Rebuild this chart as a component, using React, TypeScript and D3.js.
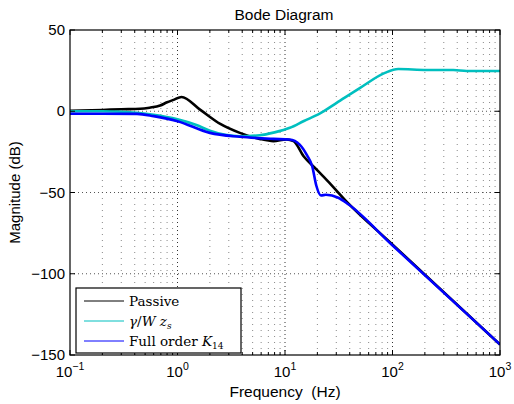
import React from "react";
import * as d3 from "d3";

// frequency (Hz) / magnitude (dB)
const passiveFreq = [0.1, 0.2, 0.3, 0.45, 0.55, 0.69, 0.8, 0.92, 1.09, 1.62, 2.5, 3.8, 5.8, 7.8, 10.3, 12, 14.9, 19.6, 25, 37, 98, 1000];
const passiveDb = [0.2, 0.8, 1.2, 1.5, 2.2, 3.5, 5.5, 7.0, 8.8, 1, -7.8, -13.3, -17, -18.4, -17.4, -18.4, -27.7, -35.8, -43, -55.3, -81.5, -143.5];

const gammaFreq = [0.1, 0.2, 0.3, 0.42, 0.6, 1.0, 1.5, 2.0, 3.8, 5.8, 8, 11.1, 15, 21, 30, 50, 85, 113, 208, 368, 490, 1000];
const gammaDb = [0, 0, -0.3, -1, -2.2, -5, -8.5, -12, -15.4, -14.8, -13, -10.2, -6, -1.5, 5, 14.4, 23.6, 26, 25.4, 25.4, 24.8, 24.8];

const fullFreq = [0.1, 0.2, 0.42, 0.6, 1.0, 2.0, 3.8, 7.8, 11, 13.7, 16, 17.9, 19.6, 21.6, 24, 31.3, 39.1, 98, 1000];
const fullDb = [-1.5, -1.5, -1.6, -3, -6.1, -13.3, -15.7, -17, -17.4, -20.5, -27, -33.8, -46, -51.8, -51.4, -53.2, -57.4, -82, -143.5];

const yTicks = [50, 0, -50, -100, -150];
const xDecades = [-1, 0, 1, 2, 3];

const W = 514, H = 404;
const left = 70, right = 500, top = 30, bottom = 355;

const x = d3.scaleLog().domain([0.1, 1000]).range([left, right]);
const y = d3.scaleLinear().domain([-150, 50]).range([bottom, top]);

const line = d3
  .line<[number, number]>()
  .x((d) => x(d[0]))
  .y((d) => y(d[1]))
  .curve(d3.curveMonotoneX);

const zip = (f: number[], v: number[]) => f.map((d, i) => [d, v[i]] as [number, number]);

const series = [
  { key: "passive", pts: zip(passiveFreq, passiveDb), color: "#000000" },
  { key: "gamma", pts: zip(gammaFreq, gammaDb), color: "#00BFBF" },
  { key: "full", pts: zip(fullFreq, fullDb), color: "#0000FF" },
];

const minorFreqs: number[] = [];
for (let e = -1; e < 3; e++) for (let k = 2; k <= 9; k++) minorFreqs.push(k * Math.pow(10, e));

const sans = "'Liberation Sans', Arial, sans-serif";
const serif = "'DejaVu Serif', 'Liberation Serif', serif";

export default function App() {
  return (
    <svg width={W} height={H} style={{ position: "absolute", left: 0, top: 0, background: "#fff" }}>
      <rect width={W} height={H} fill="#fff" />
      {/* grid */}
      {minorFreqs.map((f) => (
        <line key={"mg" + f} x1={x(f)} x2={x(f)} y1={top} y2={bottom} stroke="#888" strokeWidth={1} strokeDasharray="1,5" />
      ))}
      {xDecades.slice(1, -1).map((e) => (
        <line key={"Mg" + e} x1={x(Math.pow(10, e))} x2={x(Math.pow(10, e))} y1={top} y2={bottom} stroke="#333" strokeWidth={1} strokeDasharray="1,3" />
      ))}
      {yTicks.slice(1, -1).map((t) => (
        <line key={"yg" + t} x1={left} x2={right} y1={y(t)} y2={y(t)} stroke="#555" strokeWidth={1} strokeDasharray="1,3" />
      ))}

      {/* curves */}
      <g clipPath="url(#clip)">
        {series.map((s) => (
          <path key={s.key} d={line(s.pts) || ""} fill="none" stroke={s.color} strokeWidth={2.6} strokeLinejoin="round" />
        ))}
      </g>
      <defs>
        <clipPath id="clip">
          <rect x={left} y={top} width={right - left} height={bottom - top} />
        </clipPath>
      </defs>

      {/* ticks */}
      {yTicks.map((t) => (
        <g key={"yt" + t}>
          <line x1={left} x2={left + 5} y1={y(t)} y2={y(t)} stroke="#000" />
          <line x1={right} x2={right - 5} y1={y(t)} y2={y(t)} stroke="#000" />
          <text x={left - 5} y={y(t) + 5} textAnchor="end" fontFamily={sans} fontSize={15}>
            {t < 0 ? "\u2212" + Math.abs(t) : t}
          </text>
        </g>
      ))}
      {minorFreqs.map((f) => (
        <g key={"xm" + f}>
          <line x1={x(f)} x2={x(f)} y1={bottom} y2={bottom - 3} stroke="#000" />
          <line x1={x(f)} x2={x(f)} y1={top} y2={top + 3} stroke="#000" />
        </g>
      ))}
      {xDecades.map((e) => (
        <g key={"xt" + e}>
          <line x1={x(Math.pow(10, e))} x2={x(Math.pow(10, e))} y1={bottom} y2={bottom - 5} stroke="#000" />
          <line x1={x(Math.pow(10, e))} x2={x(Math.pow(10, e))} y1={top} y2={top + 5} stroke="#000" />
          <text x={x(Math.pow(10, e))} y={377} textAnchor="middle" fontFamily={sans} fontSize={15}>
            10
            <tspan dy={-7} fontSize={10.5}>{e < 0 ? "\u2212" + Math.abs(e) : e}</tspan>
          </text>
        </g>
      ))}

      <rect x={left} y={top} width={right - left} height={bottom - top} fill="none" stroke="#000" strokeWidth={1.2} />

      {/* labels */}
      <text x={284} y={20} textAnchor="middle" fontFamily={sans} fontSize={15.5}>Bode Diagram</text>
      <text x={285} y={397} textAnchor="middle" fontFamily={sans} fontSize={15.5} style={{ whiteSpace: "pre" }}>
        Frequency  (Hz)
      </text>
      <text transform={`translate(20,${(top + bottom) / 2}) rotate(-90)`} textAnchor="middle" fontFamily={sans} fontSize={15}>
        Magnitude (dB)
      </text>

      {/* legend */}
      <g>
        <rect x={76} y={288} width={165} height={65} fill="#fff" stroke="#000" strokeWidth={1.2} />
        <line x1={84} x2={124} y1={301} y2={301} stroke="#000" strokeWidth={1} />
        <line x1={84} x2={124} y1={321} y2={321} stroke="#00BFBF" strokeWidth={1} />
        <line x1={84} x2={124} y1={341} y2={341} stroke="#0000FF" strokeWidth={1} />
        <text x={129} y={306} fontFamily={serif} fontSize={13.5}>Passive</text>
        <text x={129} y={326} fontFamily={serif} fontSize={13.5}>
          <tspan fontStyle="italic">γ</tspan>/<tspan fontStyle="italic">W z</tspan>
          <tspan fontStyle="italic" fontSize={9} dy={3}>s</tspan>
        </text>
        <text x={129} y={346} fontFamily={serif} fontSize={13.5}>
          Full order <tspan fontStyle="italic">K</tspan>
          <tspan fontSize={9} dy={3}>14</tspan>
        </text>
      </g>
    </svg>
  );
}
